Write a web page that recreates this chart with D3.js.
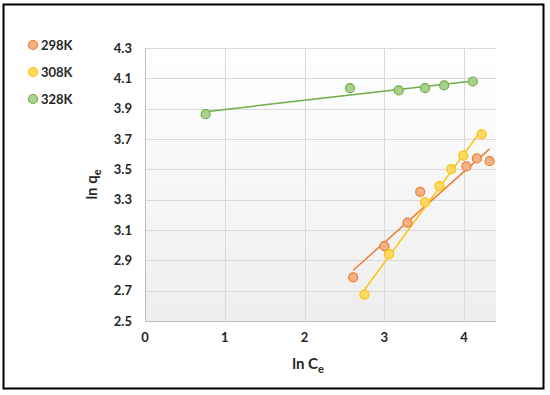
<!DOCTYPE html>
<html>
<head>
<meta charset="utf-8">
<script src="https://cdn.jsdelivr.net/npm/d3@7"></script>
<style>
  body { margin: 0; background: #fff; }
  svg text { font-family: Lato, "Open Sans", sans-serif; font-weight: bold; fill: #262626; }
</style>
</head>
<body>
<div id="chart"></div>
<script>
// values
const series = ["298K", "308K", "328K"];
const x298 = [2.61, 3.00, 3.29, 3.45, 4.03, 4.16, 4.32];
const y298 = [2.788, 2.994, 3.148, 3.352, 3.519, 3.572, 3.554];
const x308 = [2.75, 3.06, 3.51, 3.69, 3.84, 3.99, 4.22];
const y308 = [2.674, 2.941, 3.282, 3.389, 3.501, 3.590, 3.730];
const x328 = [0.76, 2.57, 3.18, 3.51, 3.75, 4.11];
const y328 = [3.864, 4.035, 4.020, 4.035, 4.053, 4.079];
const xTicks = [0, 1, 2, 3, 4];
const yTicks = [2.5, 2.7, 2.9, 3.1, 3.3, 3.5, 3.7, 3.9, 4.1, 4.3];

const colors = {
  "298K": { line: "#ED7D31", fill: "#F4B183" },
  "308K": { line: "#FFC000", fill: "#FFD966" },
  "328K": { line: "#70AD47", fill: "#A9D18E" }
};

const data = [
  { name: "298K", xs: x298, ys: y298 },
  { name: "308K", xs: x308, ys: y308 },
  { name: "328K", xs: x328, ys: y328 }
];

const width = 550, height = 395;
const margin = { top: 48, right: 54, bottom: 74, left: 145 };

const svg = d3.select("#chart").append("svg")
  .attr("width", width)
  .attr("height", height);

// outer frame
svg.append("rect")
  .attr("x", 3.5).attr("y", 4.5)
  .attr("width", 540).attr("height", 384)
  .attr("fill", "none").attr("stroke", "#000").attr("stroke-width", 2);

const x = d3.scaleLinear().domain([0, 4.4]).range([margin.left, width - margin.right]);
const y = d3.scaleLinear().domain([2.5, 4.3]).range([height - margin.bottom, margin.top]);

// plot area background gradient
const grad = svg.append("defs").append("linearGradient")
  .attr("id", "bg").attr("x1", 0).attr("y1", 0).attr("x2", 0).attr("y2", 1);
grad.append("stop").attr("offset", "0%").attr("stop-color", "#ffffff");
grad.append("stop").attr("offset", "100%").attr("stop-color", "#eeeeee");

svg.append("rect")
  .attr("x", x(0)).attr("y", y(4.3))
  .attr("width", x(4.4) - x(0)).attr("height", y(2.5) - y(4.3))
  .attr("fill", "url(#bg)");

// grid
svg.append("g").selectAll("line")
  .data(yTicks)
  .join("line")
    .attr("x1", x(0)).attr("x2", x(4.4))
    .attr("y1", d => Math.round(y(d)) + 0.5).attr("y2", d => Math.round(y(d)) + 0.5)
    .attr("stroke", "#d9d9d9");
svg.append("g").selectAll("line")
  .data(xTicks.slice(1))
  .join("line")
    .attr("x1", d => Math.round(x(d)) + 0.5).attr("x2", d => Math.round(x(d)) + 0.5)
    .attr("y1", y(2.5)).attr("y2", y(4.3))
    .attr("stroke", "#d9d9d9");

// axis lines
svg.append("line")
  .attr("x1", x(0) + 0.5).attr("x2", x(0) + 0.5)
  .attr("y1", y(2.5)).attr("y2", y(4.3))
  .attr("stroke", "#bfbfbf");
svg.append("line")
  .attr("x1", x(0)).attr("x2", x(4.4))
  .attr("y1", Math.round(y(2.5)) + 0.5).attr("y2", Math.round(y(2.5)) + 0.5)
  .attr("stroke", "#bfbfbf");

// tick labels
svg.append("g").selectAll("text")
  .data(yTicks)
  .join("text")
    .attr("x", 132).attr("y", d => y(d))
    .attr("dy", "0.35em")
    .attr("text-anchor", "end")
    .style("font-size", "13px")
    .text(d => d3.format(".1f")(d));
svg.append("g").selectAll("text")
  .data(xTicks)
  .join("text")
    .attr("x", d => x(d)).attr("y", 342)
    .attr("text-anchor", "middle")
    .style("font-size", "13px")
    .text(d => d);

// axis titles
const xt = svg.append("text")
  .attr("x", 308).attr("y", 369)
  .attr("text-anchor", "middle")
  .style("font-size", "15px");
xt.append("tspan").text("ln C");
xt.append("tspan").attr("dy", 4).style("font-size", "11px").text("e");

const yt = svg.append("text")
  .attr("transform", "translate(97," + ((y(2.5) + y(4.3)) / 2) + ") rotate(-90)")
  .attr("text-anchor", "middle")
  .style("font-size", "15px");
yt.append("tspan").text("ln q");
yt.append("tspan").attr("dy", 4).style("font-size", "11px").text("e");

// linear trendlines (least squares)
function fit(xs, ys) {
  const mx = d3.mean(xs), my = d3.mean(ys);
  let num = 0, den = 0;
  xs.forEach((v, i) => { num += (v - mx) * (ys[i] - my); den += (v - mx) * (v - mx); });
  const b = num / den;
  return { b: b, a: my - b * mx };
}

data.forEach(s => {
  const f = fit(s.xs, s.ys);
  const x0 = d3.min(s.xs), x1 = d3.max(s.xs);
  svg.append("line")
    .attr("x1", x(x0)).attr("y1", y(f.a + f.b * x0))
    .attr("x2", x(x1)).attr("y2", y(f.a + f.b * x1))
    .attr("stroke", colors[s.name].line)
    .attr("stroke-width", 1.5);
});

// markers
data.forEach(s => {
  svg.append("g").selectAll("circle")
    .data(s.xs.map((v, i) => [v, s.ys[i]]))
    .join("circle")
      .attr("cx", d => x(d[0])).attr("cy", d => y(d[1]))
      .attr("r", 4.5)
      .attr("fill", colors[s.name].fill)
      .attr("stroke", colors[s.name].line)
      .attr("stroke-width", 1.2);
});

// legend
const legend = svg.append("g").selectAll("g")
  .data(series)
  .join("g")
    .attr("transform", (d, i) => "translate(33," + (45 + i * 27) + ")");
legend.append("circle")
  .attr("r", 4.5)
  .attr("fill", d => colors[d].fill)
  .attr("stroke", d => colors[d].line)
  .attr("stroke-width", 1.2);
legend.append("text")
  .attr("x", 8).attr("dy", "0.35em")
  .style("font-size", "13px")
  .text(d => d);
</script>
</body>
</html>
